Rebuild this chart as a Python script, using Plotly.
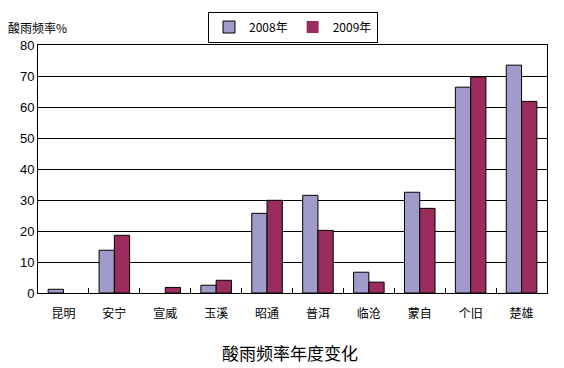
import plotly.graph_objects as go

categories = ["昆明", "安宁", "宣威", "玉溪", "昭通", "普洱", "临沧", "蒙自", "个旧", "楚雄"]
values_2008 = [1.2, 13.8, 0, 2.5, 25.7, 31.5, 6.7, 32.5, 66.4, 73.5]
values_2009 = [0, 18.6, 1.8, 4.1, 29.9, 20.2, 3.5, 27.3, 69.7, 61.8]
series_names = ["2008年", "2009年"]
y_ticks = [0, 10, 20, 30, 40, 50, 60, 70, 80]

cjk = "Noto Sans CJK SC"


def outline(vals):
    return [1 if v > 0 else 0 for v in vals]


fig = go.Figure()
fig.add_trace(go.Bar(x=categories, y=values_2008, name=series_names[0],
                     marker=dict(color="#9F9BCB",
                                 line=dict(color="black", width=outline(values_2008)))))
fig.add_trace(go.Bar(x=categories, y=values_2009, name=series_names[1],
                     marker=dict(color="#9B2D5E",
                                 line=dict(color="black", width=outline(values_2009)))))

fig.update_layout(
    width=564, height=368,
    margin=dict(l=38, r=17, t=45, b=75, autoexpand=False),
    paper_bgcolor="white", plot_bgcolor="white",
    barmode="group", bargap=0.4, bargroupgap=0,
    font=dict(family=cjk, color="black", size=12),
    legend=dict(orientation="h", x=0.334, y=1.135, xanchor="left", yanchor="top",
                bordercolor="black", borderwidth=1, font=dict(size=12, family=cjk),
                itemwidth=30, tracegroupgap=0),
    xaxis=dict(showline=True, linecolor="black", linewidth=1, mirror=True,
               ticks="inside", tickson="boundaries", ticklen=5, tickcolor="black",
               tickfont=dict(size=12, family=cjk), showgrid=False,
               ticklabelstandoff=10),
    yaxis=dict(range=[0, 80], tickvals=y_ticks, showline=True, linecolor="black",
               linewidth=1, mirror=True, gridcolor="black", gridwidth=1,
               ticks="", tickfont=dict(size=13, family="Liberation Sans"),
               zeroline=False),
    annotations=[
        dict(text="酸雨频率%", xref="paper", yref="paper", x=-0.063, y=1.07,
             xanchor="left", yanchor="middle", showarrow=False,
             font=dict(size=12, family=cjk)),
        dict(text="酸雨频率年度变化", xref="paper", yref="paper", x=0.495, y=-0.238,
             xanchor="center", yanchor="middle", showarrow=False,
             font=dict(size=17, family=cjk)),
    ],
)

fig.write_html("out.html", config={"displayModeBar": False},
               post_script="document.body.style.margin='0';")
